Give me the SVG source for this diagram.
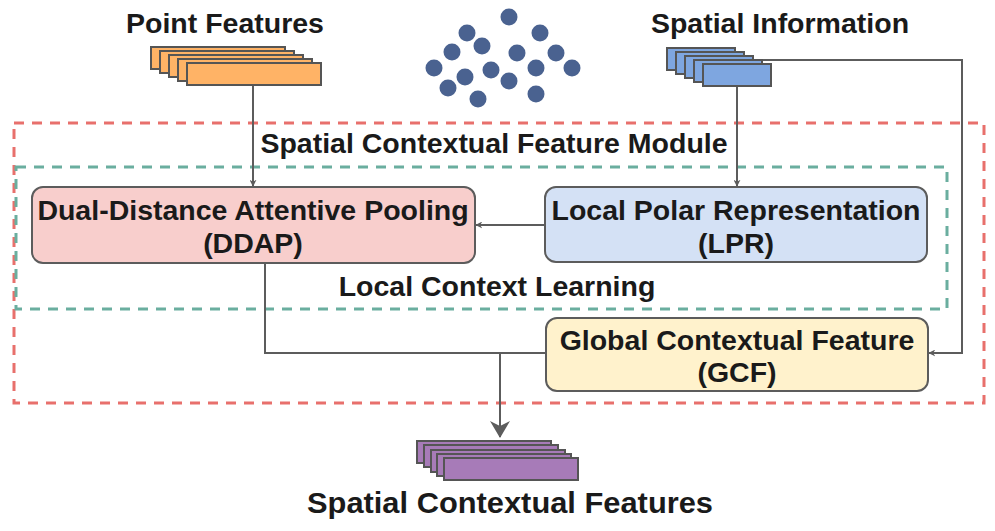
<svg xmlns="http://www.w3.org/2000/svg" width="995" height="531" viewBox="0 0 995 531">
<defs>
<style>
text{font-family:"Liberation Sans",Arial,sans-serif;font-weight:bold;font-size:28.5px;fill:#1a1a1a;text-anchor:middle}
.box{stroke:#5c5c5c;stroke-width:2}
.stk{stroke:#555;stroke-width:2}
.conn{fill:none;stroke:#5c5c5c;stroke-width:2}
.dot{fill:#4a6290}
</style>
<marker id="arr" viewBox="0 0 10 10" refX="9" refY="5" markerWidth="7" markerHeight="7" orient="auto" markerUnits="userSpaceOnUse">
<path d="M0,0 L10,5 L0,10 L3,5 Z" fill="#5c5c5c"/>
</marker>
<marker id="arrBig" viewBox="0 0 17 20" refX="16" refY="10" markerWidth="17" markerHeight="20" orient="auto" markerUnits="userSpaceOnUse">
<path d="M0,0 L17,10 L0,20 L5,10 Z" fill="#5c5c5c"/>
</marker>
</defs>
<rect width="995" height="531" fill="#fff"/>

<g id="module-frame">
<rect x="14" y="123" width="970" height="280" fill="none" stroke="#e8706c" stroke-width="3" stroke-dasharray="10 8"/>
<text x="494" y="153">Spatial Contextual Feature Module</text>
</g>
<g id="local-frame">
<rect x="16" y="167" width="931" height="142" fill="none" stroke="#6aae9f" stroke-width="3" stroke-dasharray="10 8"/>
<text x="497" y="296">Local Context Learning</text>
</g>

<g id="connectors">
<path class="conn" d="M253,85 V186" marker-end="url(#arr)"/>
<path class="conn" d="M737,86 V186" marker-end="url(#arr)"/>
<path class="conn" d="M545,225 H476" marker-end="url(#arr)"/>
<path class="conn" d="M760,60 H962 V353 H929" marker-end="url(#arr)"/>
<path class="conn" d="M265,263 V353 H546"/>
<path class="conn" d="M500,353 V437" marker-end="url(#arrBig)"/>
</g>

<g id="point-features">
<text x="225" y="33">Point Features</text>
<rect class="stk" x="151" y="47" width="134" height="22" fill="#ffb366"/>
<rect class="stk" x="160" y="51" width="134" height="22" fill="#ffb366"/>
<rect class="stk" x="169" y="55" width="134" height="22" fill="#ffb366"/>
<rect class="stk" x="178" y="59" width="134" height="22" fill="#ffb366"/>
<rect class="stk" x="187" y="63" width="134" height="22" fill="#ffb366"/>
</g>

<g id="point-cloud">
<circle class="dot" cx="509" cy="17" r="8.5"/>
<circle class="dot" cx="467" cy="33" r="8.5"/>
<circle class="dot" cx="540" cy="33" r="8.5"/>
<circle class="dot" cx="482" cy="46" r="8.5"/>
<circle class="dot" cx="452" cy="52" r="8.5"/>
<circle class="dot" cx="517" cy="53" r="8.5"/>
<circle class="dot" cx="556" cy="53" r="8.5"/>
<circle class="dot" cx="434" cy="68" r="8.5"/>
<circle class="dot" cx="491" cy="70" r="8.5"/>
<circle class="dot" cx="536" cy="68" r="8.5"/>
<circle class="dot" cx="572" cy="68" r="8.5"/>
<circle class="dot" cx="465" cy="77" r="8.5"/>
<circle class="dot" cx="509" cy="81" r="8.5"/>
<circle class="dot" cx="448" cy="88" r="8.5"/>
<circle class="dot" cx="536" cy="94" r="8.5"/>
<circle class="dot" cx="478" cy="99" r="8.5"/>
</g>

<g id="spatial-information">
<text x="780" y="33">Spatial Information</text>
<rect class="stk" x="667" y="48" width="68" height="22" fill="#7ea6e0"/>
<rect class="stk" x="676" y="52" width="68" height="22" fill="#7ea6e0"/>
<rect class="stk" x="685" y="56" width="68" height="22" fill="#7ea6e0"/>
<rect class="stk" x="694" y="60" width="68" height="22" fill="#7ea6e0"/>
<rect class="stk" x="703" y="64" width="68" height="22" fill="#7ea6e0"/>
</g>

<g id="ddap">
<rect class="box" x="32" y="187" width="443" height="76" rx="11" fill="#f8cecc"/>
<text x="253" y="220">Dual-Distance Attentive Pooling</text>
<text x="253" y="253">(DDAP)</text>
</g>

<g id="lpr">
<rect class="box" x="545" y="187" width="382" height="75" rx="11" fill="#d4e1f5"/>
<text x="736" y="220">Local Polar Representation</text>
<text x="736" y="253">(LPR)</text>
</g>

<g id="gcf">
<rect class="box" x="546" y="318" width="382" height="73" rx="11" fill="#fff2cc"/>
<text x="737" y="350">Global Contextual Feature</text>
<text x="737" y="382">(GCF)</text>
</g>

<g id="spatial-contextual-features">
<rect class="stk" x="417" y="441" width="134" height="22" fill="#a77bb8"/>
<rect class="stk" x="424" y="445" width="134" height="22" fill="#a77bb8"/>
<rect class="stk" x="431" y="450" width="134" height="22" fill="#a77bb8"/>
<rect class="stk" x="437" y="454" width="134" height="22" fill="#a77bb8"/>
<rect class="stk" x="444" y="458" width="134" height="22" fill="#a77bb8"/>
<text x="510" y="513" style="font-size:29.5px" textLength="406" lengthAdjust="spacingAndGlyphs">Spatial Contextual Features</text>
</g>
</svg>
